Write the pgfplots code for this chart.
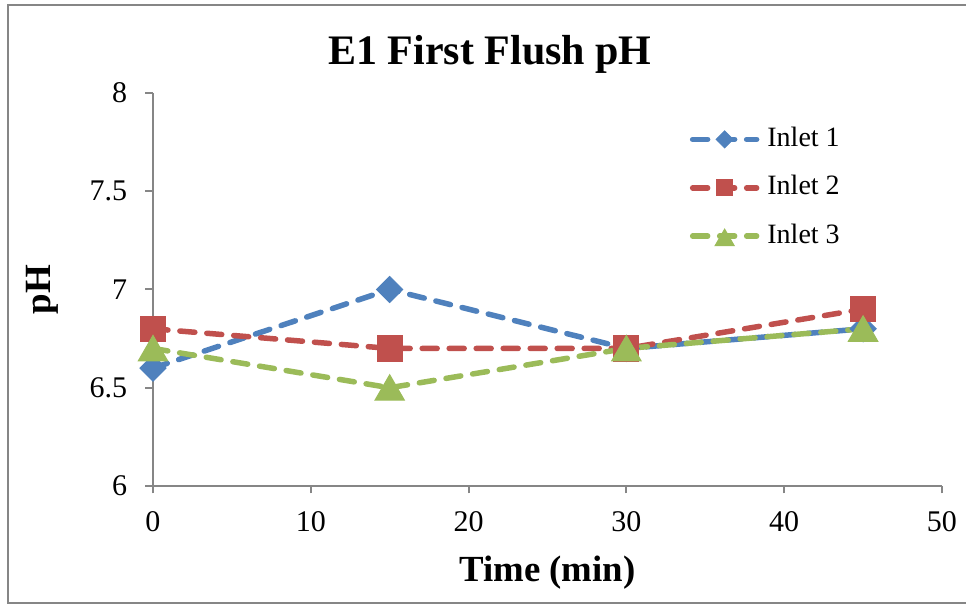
\documentclass[border=0pt]{standalone}
\usepackage{pgfplots}
\pgfplotsset{compat=1.18}
\usepackage{fontspec}
\setmainfont{Liberation Serif}
\definecolor{sblue}{HTML}{4F81BD}
\definecolor{sred}{HTML}{C0504D}
\definecolor{sgreen}{HTML}{9BBB59}
\definecolor{axgray}{HTML}{868686}
\begin{document}
\begin{tikzpicture}
\path[use as bounding box] (-76.5pt,-59.5pt) rectangle (406.5pt,243pt);
\draw[color=axgray, line width=1pt] (-72.5pt,-58.5pt) rectangle (408pt,240.5pt);
\begin{axis}[
  at={(0pt,0pt)}, anchor=south west,
  scale only axis, width=394.5pt, height=196.5pt,
  xmin=0, xmax=50, ymin=6, ymax=8,
  xtick={0,10,20,30,40,50},
  ytick={6,6.5,7,7.5,8},
  axis x line*=bottom, axis y line*=left,
  axis line style={color=axgray, line width=1pt},
  tick style={color=axgray, line width=1pt},
  tick align=outside, major tick length=3.75pt,
  /pgf/number format/assume math mode=true,
  ticklabel style={font=\fontsize{15}{18}\selectfont, text=black},
  xticklabel style={anchor=base, inner sep=0pt, yshift=-19pt},
  yticklabel style={anchor=east, inner sep=0pt, xshift=-9pt},
  clip=false,
  legend style={draw=none, fill=none, inner sep=0pt,
    at={(0.68,0.916)}, anchor=north west,
    font=\fontsize{14}{17}\selectfont,
    nodes={inner sep=0pt, text height=10pt, text depth=3pt},
    row sep=11.2pt, column sep=4pt},
  legend cell align=left,
  legend image code/.code={
    \draw[mark repeat=2, mark phase=2, #1, every mark/.append style={scale=0.65}] plot coordinates {(0pt,0pt) (16pt,0pt) (32pt,0pt)};
  },
  every axis plot/.append style={line width=2.75pt, dash pattern=on 7.5pt off 6pt, line cap=round},
]
\addplot[color=sblue, mark=square*, mark size=4.6pt, mark options={solid, rotate=45, fill=sblue, line width=0.5pt}]
  coordinates {(0,6.6) (15,7.0) (30,6.7) (45,6.8)};
\addlegendentry{Inlet 1}
\addplot[color=sred, mark=square*, mark size=6.3pt, mark options={solid, fill=sred, line width=0.5pt}]
  coordinates {(0,6.8) (15,6.7) (30,6.7) (45,6.9)};
\addlegendentry{Inlet 2}
\addplot[color=sgreen, mark=triangle*, mark size=8.5pt, mark options={solid, fill=sgreen, line width=0.5pt, yshift=-2pt}]
  coordinates {(0,6.7) (15,6.5) (30,6.7) (45,6.8)};
\addlegendentry{Inlet 3}
\end{axis}
\node[anchor=base, font=\fontsize{21}{25}\selectfont\bfseries] at (168.5pt,210.5pt) {E1 First Flush pH};
\node[anchor=base, font=\fontsize{18.4}{22}\selectfont\bfseries] at (197.25pt,-48pt) {Time (min)};
\node[anchor=base, rotate=90, font=\fontsize{18.5}{22}\selectfont\bfseries] at (-51pt,98.25pt) {pH};
\end{tikzpicture}
\end{document}
